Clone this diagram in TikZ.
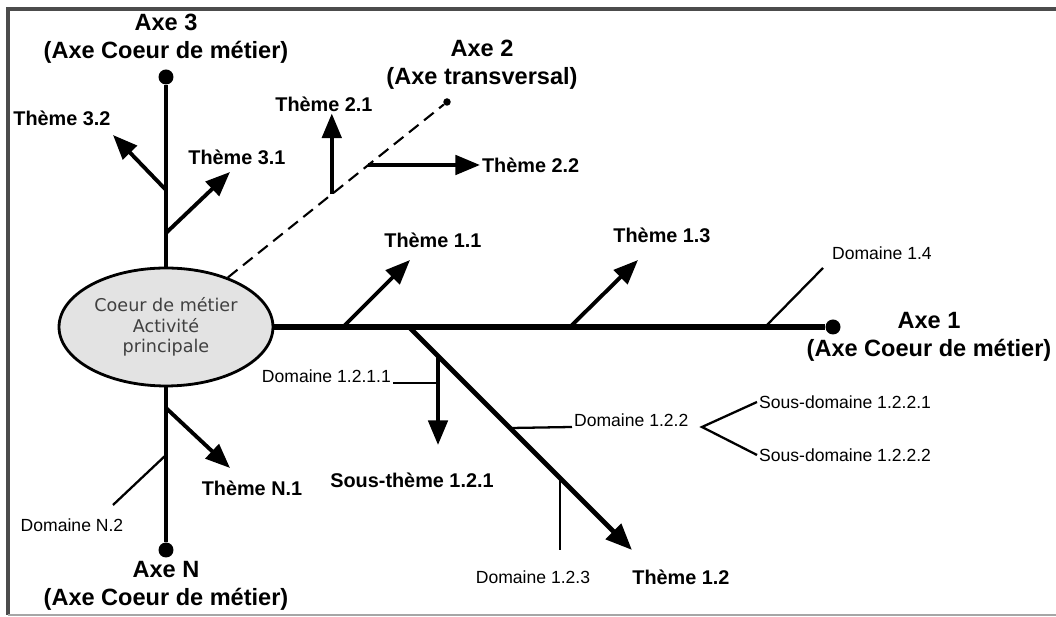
\documentclass[tikz,border=0pt]{standalone}
\usepackage{fontspec}
\setmainfont{Liberation Sans}
\newfontfamily\corefont{DejaVu Sans}
\usepackage{tikz}
\usetikzlibrary{arrows.meta, positioning, shapes.geometric, calc}

\begin{document}
\begin{tikzpicture}[x=0.02cm, y=-0.02cm,
    axis/.style={line width=2.6pt},
    mainaxis/.style={line width=3.4pt},
    branch/.style={line width=2.2pt, -{Triangle[length=14pt, width=11pt]}},
    domline/.style={line width=1.3pt},
    axlabel/.style={font=\fontsize{13.4}{16}\selectfont\bfseries, align=center},
    thlabel/.style={font=\fontsize{11.3}{13}\selectfont\bfseries, inner sep=1pt},
    domlabel/.style={font=\fontsize{10}{12}\selectfont, inner sep=1pt},
    dot/.style={circle, fill, inner sep=0pt, minimum size=0.3cm},
    core/.style={ellipse, draw, line width=1.6pt, fill=gray!22, inner sep=0pt,
      minimum width=4.28cm, minimum height=2.36cm, align=center,
      text=black!75, font=\corefont\fontsize{10}{11.5}\selectfont}]
  \useasboundingbox (0,0) rectangle (1056,617);

  % frame
  \draw[black!70, line width=2pt] (1056,9) -- (8,9) -- (8,615);
  \draw[black!35, line width=1.2pt] (8,615) -- (1056,615);

  % centre
  \node[core] (core) at (166,327) {Coeur de métier\\Activité\\principale};

  % axis ends
  \node[dot] (dot3) at (166,77) {};
  \node[dot] (dot1) at (833,327) {};
  \node[dot] (dotN) at (166,550) {};
  \node[circle, fill, inner sep=0pt, minimum size=0.15cm] (dot2) at (447,102) {};

  \node[axlabel] (ax3) at (166,39) {Axe 3\\(Axe Coeur de métier)};
  \node[axlabel] (ax2) at (482,65) {Axe 2\\(Axe transversal)};
  \node[axlabel] (ax1) at (929,337) {Axe 1\\(Axe Coeur de métier)};
  \node[axlabel] (axN) at (166,586) {Axe N\\(Axe Coeur de métier)};

  \draw[axis] (core) -- (dot3);
  \draw[axis] (core) -- (dotN);
  \draw[mainaxis] (core) -- (dot1);
  \draw[line width=1.2pt, dash pattern=on 7pt off 4pt] (core) -- (dot2);

  % Axe 3
  \node[thlabel] (t32) at (62,118) {Thème 3.2};
  \node[thlabel] (t31) at (237,157) {Thème 3.1};
  \draw[branch] (166,190) -- (113,135);
  \draw[branch] (166,233) -- (230,172);

  % Axe 2
  \coordinate (b21) at ($(core)!0.59!(dot2)$);
  \coordinate (b22) at ($(core)!0.72!(dot2)$);
  \node[thlabel] (t21) at (324,104) {Thème 2.1};
  \node[thlabel, anchor=west] (t22) at (480,165) {Thème 2.2};
  \draw[branch] (b21) -- (b21 |- t21.south);
  \draw[branch] (b22) -- (b22 -| t22.west);

  % Axe 1
  \node[thlabel] (t11) at (433,240) {Thème 1.1};
  \node[thlabel] (t13) at (662,235) {Thème 1.3};
  \node[domlabel, anchor=west] (d14) at (830,253) {Domaine 1.4};
  \draw[branch] (343,327) -- (410,260);
  \draw[branch] (570,327) -- (638,260);
  \draw[domline] (765,327) -- (823,268);

  % Theme 1.2
  \coordinate (b12) at (409,327);
  \coordinate (e12) at (632,550);
  \draw[line width=2.8pt, -{Triangle[length=15pt, width=12pt]}] (b12) -- (e12);
  \node[thlabel] (t12) at (681,577) {Thème 1.2};
  \coordinate (b121) at ($(b12)!0.13!(e12)$);
  \coordinate (b122) at ($(b12)!0.453!(e12)$);
  \coordinate (b123) at ($(b12)!0.677!(e12)$);

  \node[thlabel] (st121) at (412,480) {Sous-thème 1.2.1};
  \node[domlabel, anchor=base east] (d1211) at (393,383) {Domaine 1.2.1.1};
  \draw[branch] (b121) -- (438,445);
  \draw[domline] (d1211.base east) -- (d1211.base east -| b121);

  \node[domlabel, anchor=base west] (d122) at (572,427) {Domaine 1.2.2};
  \draw[domline] (b122) -- (d122.base west);
  \coordinate (fork) at (702,427);
  \node[domlabel, anchor=west] (sd1) at (757,402) {Sous-domaine 1.2.2.1};
  \node[domlabel, anchor=west] (sd2) at (757,455) {Sous-domaine 1.2.2.2};
  \draw[domline] (sd1.west) -- (fork) -- (sd2.west);

  \node[domlabel] (d123) at (533,577) {Domaine 1.2.3};
  \draw[domline] (b123) -- (b123 |- 0,550);

  % Axe N
  \node[thlabel] (tN1) at (252,488) {Thème N.1};
  \node[domlabel] (dN2) at (72,525) {Domaine N.2};
  \draw[branch] (166,408) -- (230,468);
  \draw[domline] (166,455) -- (113,505);
\end{tikzpicture}
\end{document}
